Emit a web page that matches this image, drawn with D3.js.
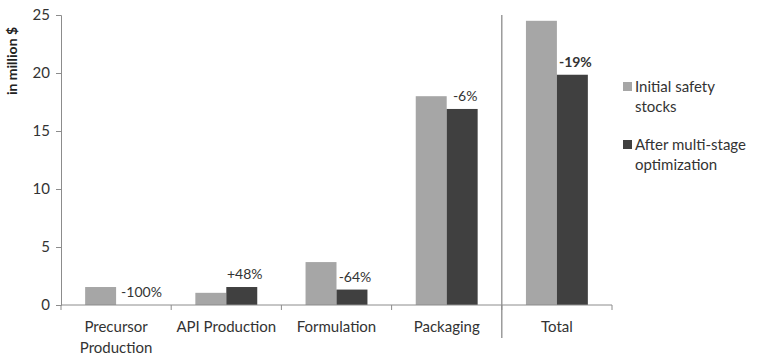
<!DOCTYPE html>
<html><head><meta charset="utf-8">
<script src="https://cdn.jsdelivr.net/npm/d3@7"></script>
<style>body{margin:0;background:#fff;} text{font-family:Lato,"Open Sans",sans-serif;}</style>
</head><body><svg id="c" width="758" height="356"></svg>
<script>
const categories = [["Precursor","Production"],["API Production"],["Formulation"],["Packaging"],["Total"]];
const seriesNames = [["Initial safety","stocks"],["After multi-stage","optimization"]];
const initialStocks = [1.55, 1.05, 3.7, 18.0, 24.5];
const afterOptimization = [0, 1.55, 1.33, 16.9, 19.85];
const changeLabels = ["-100%","+48%","-64%","-6%","-19%"];
const yTicks = [0,5,10,15,20,25];
const colors = ["#a6a6a6","#404040"];

(function(){
const svg = d3.select("#c");
const mL=61, mR=612, mT=15, mB=305;
const x0 = d3.scaleBand().domain(d3.range(categories.length)).range([mL,mR]).padding(0);
const x1 = d3.scaleBand().domain([0,1]).range([0,x0.bandwidth()]).paddingInner(0).paddingOuter(0.78);
const y = d3.scaleLinear().domain([0,25]).range([mB,mT]);

const series=[initialStocks, afterOptimization];
series.forEach((vals,si)=>{
  svg.append("g").selectAll("rect").data(vals).join("rect")
    .attr("x",(d,i)=>x0(i)+x1(si)).attr("width",x1.bandwidth())
    .attr("y",d=>y(d)).attr("height",d=>y(0)-y(d)).attr("fill",colors[si]);
});

const ya = svg.append("g").attr("transform",`translate(${mL},0)`)
  .call(d3.axisLeft(y).tickValues(yTicks).tickSize(5).tickPadding(6));
ya.select(".domain").attr("stroke","#8c8c8c");
ya.selectAll(".tick line").attr("stroke","#8c8c8c");
ya.selectAll(".tick text").attr("font-size",15).attr("fill","#333").attr("font-family","Lato");

const xa = svg.append("g").attr("transform",`translate(0,${mB})`);
xa.append("line").attr("x1",mL).attr("x2",mR).attr("stroke","#8c8c8c");
xa.selectAll("line.t").data(d3.range(categories.length+1)).join("line").attr("class","t")
  .attr("x1",i=>mL+i*x0.step()).attr("x2",i=>mL+i*x0.step()).attr("y1",0).attr("y2",5).attr("stroke","#8c8c8c");
xa.selectAll("text").data(categories).join("text")
  .attr("x",(d,i)=>x0(i)+x0.bandwidth()/2).attr("y",27).attr("text-anchor","middle")
  .attr("font-size",15).attr("fill","#333")
  .each(function(d){ const xx=d3.select(this).attr("x"); d3.select(this).selectAll("tspan").data(d).join("tspan")
     .attr("x",xx).attr("dy",(t,j)=>j?21:0).text(t=>t); });

const dvx = x0(categories.length-1);
svg.append("line").attr("x1",dvx).attr("x2",dvx).attr("y1",mT).attr("y2",338).attr("stroke","#8c8c8c").attr("stroke-width",1.3);

svg.append("g").selectAll("text").data(changeLabels).join("text")
  .attr("x",(d,i)=> afterOptimization[i]===0 ? x0(i)+x1(1)+5 : x0(i)+x1(1)+x1.bandwidth()/2+3)
  .attr("y",(d,i)=>y(afterOptimization[i])-8)
  .attr("text-anchor",(d,i)=>afterOptimization[i]===0?"start":"middle")
  .attr("font-size",14).attr("fill","#333")
  .attr("font-weight",(d,i)=>i===categories.length-1?"bold":"normal")
  .text(d=>d);

svg.append("text").attr("transform","translate(17,61) rotate(-90)").attr("text-anchor","middle")
  .attr("font-size",14).attr("font-weight","bold").attr("fill","#222").text("in million $");

const lg = svg.append("g");
seriesNames.forEach((nm,si)=>{
  const yy = 87 + si*58;
  lg.append("rect").attr("x",623).attr("y",yy-5).attr("width",9).attr("height",9).attr("fill",colors[si]);
  const t = lg.append("text").attr("x",635).attr("y",yy+5).attr("font-size",15).attr("fill","#333");
  nm.forEach((s,j)=>t.append("tspan").attr("x",635).attr("dy",j?20:0).text(s));
});
})();
</script></body></html>
